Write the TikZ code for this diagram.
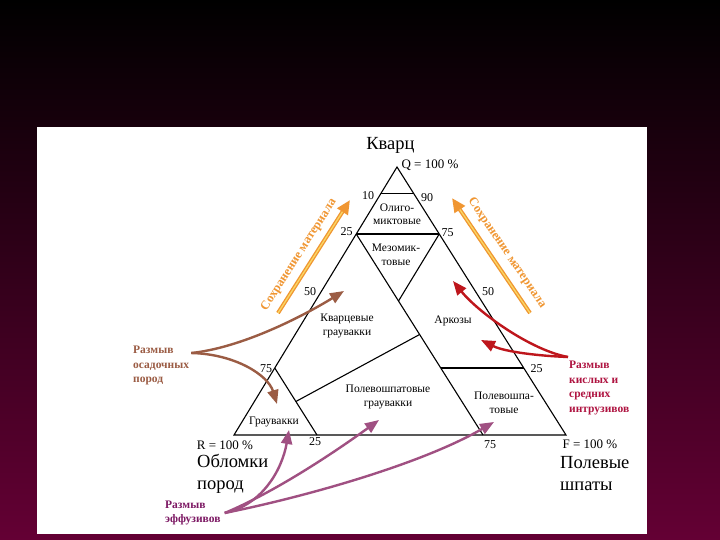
\documentclass[tikz,border=0pt]{standalone}
\usepackage{fontspec}
\setmainfont{Liberation Serif}
\definecolor{BgMaroon}{RGB}{100,0,52}
\definecolor{BgDark}{RGB}{38,0,16}
\definecolor{SedBrown}{RGB}{155,92,68}
\definecolor{AcidRed}{RGB}{190,22,28}
\definecolor{AcidText}{RGB}{175,20,65}
\definecolor{EffPurple}{RGB}{160,80,130}
\definecolor{EffText}{RGB}{125,25,100}
\definecolor{KeepOrange}{RGB}{240,150,50}
\definecolor{KeepYellow}{RGB}{250,215,100}
\usetikzlibrary{arrows.meta}

\tikzset{
    edge/.style={line width=1.1pt},
    zone/.style={font=\fontsize{11.5}{13.5}\selectfont, align=center, inner sep=0pt},
    tick/.style={font=\fontsize{12}{14}\selectfont, inner sep=0pt},
    apex/.style={font=\fontsize{13}{15}\selectfont, inner sep=0pt},
    title/.style={font=\fontsize{18.5}{22}\selectfont, align=left, inner sep=0pt},
    cause/.style={font=\bfseries\fontsize{11.5}{14.5}\selectfont, align=left, inner sep=0pt},
    feed/.style={line width=2.4pt, -{Triangle[length=14pt,width=11pt]}},
    keep/.style={line width=4pt, KeepOrange, -{Triangle[length=14pt,width=12pt]}},
    keeptext/.style={font=\bfseries\fontsize{12.5}{14}\selectfont, text=KeepOrange, inner sep=0pt},
}

\begin{document}
\begin{tikzpicture}[x=1pt,y=-1pt]
        % background and slide panel
        \shade[top color=black, middle color=BgDark, bottom color=BgMaroon] (0,0) rectangle (720,540);
        \useasboundingbox (0,0) rectangle (720,540);
        \fill[white] (37,127) rectangle (647,534);

        % triangle corners
        \coordinate (Q) at (397,167);
        \coordinate (R) at (234,435);
        \coordinate (F) at (566,435);
        \draw[edge] (Q) -- (R) -- (F) -- cycle;

        % field boundaries
        \coordinate (q90l) at (barycentric cs:Q=0.9,R=0.1);
        \coordinate (q90r) at (barycentric cs:Q=0.9,F=0.1);
        \coordinate (q75l) at (barycentric cs:Q=0.75,R=0.25);
        \coordinate (q75r) at (barycentric cs:Q=0.75,F=0.25);
        \coordinate (r25b) at (barycentric cs:F=0.75,R=0.25);
        \coordinate (mid) at (barycentric cs:Q=0.5,F=0.25,R=0.25);
        \coordinate (q25l) at (barycentric cs:Q=0.25,R=0.75);
        \coordinate (r75b) at (barycentric cs:F=0.25,R=0.75);
        \coordinate (qf75) at (barycentric cs:Q=0.125,F=0.125,R=0.75);
        \coordinate (qf25) at (barycentric cs:Q=0.375,F=0.375,R=0.25);
        \coordinate (q25m) at (barycentric cs:Q=0.25,F=0.5,R=0.25);
        \coordinate (q25r) at (barycentric cs:Q=0.25,F=0.75);
        \draw[line width=0.9pt] (q90l) -- (q90r);
        \draw[line width=1.8pt] (q75l) -- (q75r);
        \draw[edge] (q75l) -- (r25b);
        \draw[edge] (q75r) -- (mid);
        \draw[edge] (q25l) -- (r75b);
        \draw[edge] (qf75) -- (qf25);
        \draw[edge] (q25m) -- (q25r);

        % scale marks
        \node[tick] (t10) at (368,196) {10};
        \node[tick] (t90) at (427,197.5) {90};
        \node[tick] (t25l) at (346.5,232) {25};
        \node[tick] (t75r) at (447.5,233) {75};
        \node[tick] (t50l) at (310,291.5) {50};
        \node[tick] (t50r) at (488,291.5) {50};
        \node[tick] (t75l) at (266,369) {75};
        \node[tick] (t25r) at (536.5,369) {25};
        \node[tick] (t25b) at (315,442) {25};
        \node[tick] (t75b) at (490,445) {75};

        % corners
        \node[font=\fontsize{18.5}{22}\selectfont, inner sep=0pt] (quartz) at (390.5,145) {Кварц};
        \node[apex] (qtop) at (430,165) {Q = 100 \%};
        \node[apex] (rbot) at (225,445) {R = 100 \%};
        \node[apex] (fbot) at (590,444) {F = 100 \%};
        \node[title, anchor=west] (rock) at (197,474) {Обломки\\пород};
        \node[title, anchor=west] (spar) at (560,474) {Полевые\\шпаты};

        % fields
        \node[zone] (oligo) at (397,214) {Олиго-\\миктовые};
        \node[zone] (mezo) at (396,255) {Мезомик-\\товые};
        \node[zone] (qgrau) at (347,326) {Кварцевые\\граувакки};
        \node[zone] (arkose) at (453,321) {Аркозы};
        \node[zone] (fgrau) at (388,397) {Полевошпатовые\\граувакки};
        \node[zone] (fspar) at (504,403) {Полевошпа-\\товые};
        \node[zone] (grau) at (274,422) {Граувакки};

        % preservation arrows
        \coordinate (keepLtail) at (278,313);
        \coordinate (keepLhead) at (350,200);
        \coordinate (keepRtail) at (530,313);
        \coordinate (keepRhead) at (452,198);
        \draw[keep] (keepLtail) -- (keepLhead)
            node[keeptext, pos=0.45, sloped, above=6pt] {Сохранение материала};
        \draw[line width=1.3pt, KeepYellow, shorten >=14pt] (keepLtail) -- (keepLhead);
        \draw[keep] (keepRtail) -- (keepRhead)
            node[keeptext, pos=0.45, sloped, above=7pt] {Сохранение материала};
        \draw[line width=1.3pt, KeepYellow, shorten >=14pt] (keepRtail) -- (keepRhead);

        % sedimentary source
        \node[cause, text=SedBrown, anchor=north west] (sedim) at (133,346) {Размыв\\осадочных\\пород};
        \coordinate (sedOut) at ([xshift=2pt,yshift=-7pt]sedim.north east);
        \coordinate (sedUp) at (344,291);
        \coordinate (sedDown) at (277,404);
        \draw[feed, SedBrown] (sedOut) .. controls (240,348) and (300,318) .. (sedUp);
        \draw[feed, SedBrown] (sedOut) .. controls (235,354) and (268,375) .. (sedDown);

        % acid and intermediate intrusions
        \node[cause, text=AcidText, anchor=north west] (acid) at (569,361) {Размыв\\кислых и\\средних\\интрузивов};
        \coordinate (acidOut) at ([xshift=-1pt,yshift=4pt]acid.north west);
        \coordinate (acidUp) at (453,281);
        \coordinate (acidLow) at (481,340);
        \draw[feed, AcidRed] (acidOut) .. controls (530,350) and (478,312) .. (acidUp);
        \draw[feed, AcidRed] (acidOut) .. controls (540,356) and (505,352) .. (acidLow);

        % effusive source
        \node[cause, text=EffText, anchor=north west, font=\bfseries\fontsize{11.5}{13.5}\selectfont] (effus) at (165,501) {Размыв\\эффузивов};
        \coordinate (effOut) at ([xshift=4pt]effus.east);
        \coordinate (effGrau) at (289,430);
        \coordinate (effFgrau) at (379,420);
        \coordinate (effFspar) at (494,422);
        \draw[feed, EffPurple] (effOut) .. controls (262,505) and (282,470) .. (effGrau);
        \draw[feed, EffPurple] (effOut) .. controls (275,492) and (335,452) .. (effFgrau);
        \draw[feed, EffPurple] (effOut) .. controls (300,498) and (420,465) .. (effFspar);
    \end{tikzpicture}
\end{document}
